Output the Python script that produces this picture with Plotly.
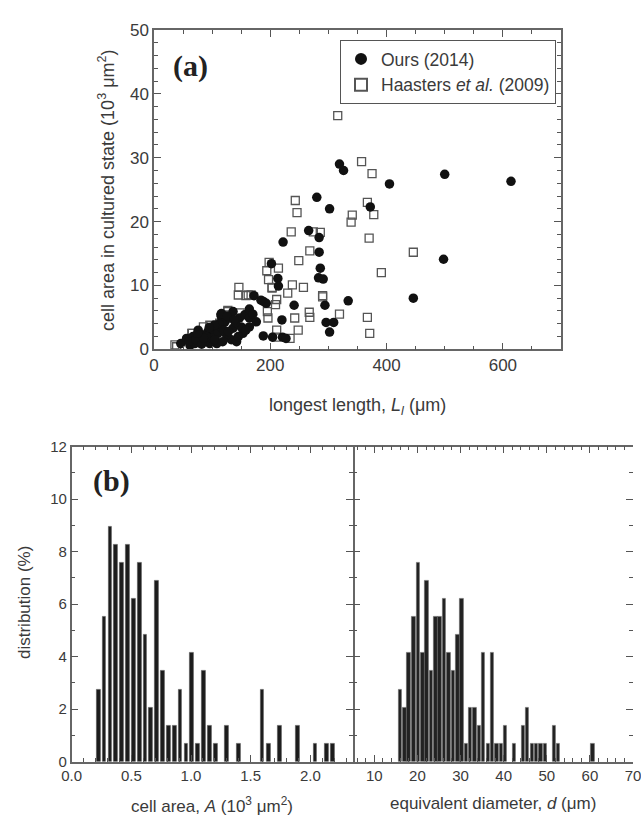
import plotly.graph_objects as go

# ---------------- data ----------------
# (a) longest length L_l (um) vs cell area (10^3 um^2)
ours_L = [319, 326, 405, 500, 614, 280, 302, 372, 266, 284, 222, 284, 286, 283, 291,
          498, 202, 213, 214, 172, 188, 193, 241, 294, 334, 446, 220, 296, 309, 302,
          188, 204, 221, 227, 115,
          46, 62, 70, 79, 76, 84, 93, 102, 110, 116, 116, 122, 130, 136, 147, 156, 164,
          164, 176, 133, 142, 108, 96, 164, 116, 56, 87, 67, 125, 136, 150, 99, 153,
          60, 72, 82, 90, 105, 112, 120, 128, 140, 145, 104, 95, 85, 75, 118, 158, 170,
          126, 138, 184]
ours_A = [29.0, 28.0, 25.9, 27.4, 26.3, 23.8, 22.0, 22.3, 18.6, 17.5, 16.8, 15.2, 12.7, 11.2, 11.0,
          14.1, 13.4, 11.1, 9.9, 8.4, 7.5, 7.2, 6.9, 6.9, 7.6, 8.0, 4.6, 4.2, 4.2, 2.7,
          2.1, 1.9, 1.9, 1.7, 5.4,
          0.9, 0.6, 0.9, 1.5, 3.0, 2.2, 2.8, 3.0, 2.5, 3.4, 5.1, 4.3, 4.9, 5.9, 4.9, 5.4, 4.9,
          3.5, 4.3, 1.5, 1.2, 0.9, 0.9, 6.3, 5.6, 1.7, 1.2, 2.0, 2.2, 3.3, 3.5, 1.7, 2.5,
          1.2, 1.5, 0.8, 2.0, 1.5, 4.0, 3.0, 2.8, 4.2, 2.0, 3.8, 3.4, 1.8, 2.5, 1.2, 3.0, 5.5,
          5.2, 4.6, 7.7]

haas_L = [316, 357, 375, 367, 378, 341, 339, 243, 246, 236, 274, 286, 268, 249, 370,
          198, 214, 194, 197, 146, 145, 158, 167, 238, 257, 230, 211, 209, 290, 203,
          127, 148, 130, 267, 268, 319, 242, 195, 248, 211, 210, 234, 97, 66, 36,
          446, 391, 367, 371, 196, 113, 104, 85, 96, 127, 162, 203, 290, 39, 65]
haas_A = [36.6, 29.4, 27.5, 23.0, 21.1, 21.0, 19.9, 23.3, 21.4, 18.4, 18.4, 18.3, 15.4, 13.9, 17.4,
          13.6, 12.7, 12.3, 10.9, 9.7, 8.5, 8.4, 8.5, 10.1, 9.7, 8.8, 7.8, 7.0, 8.4, 9.7,
          6.1, 5.7, 5.4, 5.8, 5.0, 5.5, 4.9, 5.9, 3.0, 3.0, 1.9, 1.7, 3.7, 2.5, 0.7,
          15.2, 12.0, 5.0, 2.5, 4.9, 4.1, 2.2, 3.5, 3.8, 5.9, 8.5, 9.6, 8.2, 0.4, 2.5]

# (b) histograms: bin centres and distribution (%)
area_bins = [0.224, 0.273, 0.322, 0.371, 0.420, 0.469, 0.518, 0.567, 0.616, 0.665,
             0.714, 0.763, 0.812, 0.861, 0.910, 0.959, 1.008, 1.057, 1.106, 1.155,
             1.204, 1.302, 1.400, 1.597, 1.648, 1.746, 1.891, 2.040, 2.139, 2.188]
area_pct = [2.76, 5.52, 8.97, 8.28, 7.59, 8.28, 6.21, 7.59, 4.83, 2.07,
            6.90, 3.45, 1.38, 1.38, 2.76, 0.69, 4.14, 0.69, 3.45, 1.38,
            0.69, 1.38, 0.69, 2.76, 0.69, 1.38, 1.38, 0.69, 0.69, 0.69]

diam_bins = [16.0, 17.0, 18.0, 19.1, 20.2, 21.2, 22.2, 23.2, 24.2, 25.2,
             26.2, 27.2, 28.3, 29.3, 30.3, 31.3, 32.3, 33.3, 34.3, 35.3,
             36.4, 37.4, 38.4, 39.4, 40.4, 42.4, 44.5, 45.5, 46.6, 47.6,
             48.6, 49.6, 51.7, 52.7, 60.7]
diam_pct = [2.76, 2.07, 4.14, 5.52, 7.59, 4.14, 6.90, 3.45, 5.52, 5.52,
            6.21, 4.14, 3.45, 4.83, 6.21, 0.69, 2.07, 2.07, 1.38, 4.14,
            0.69, 4.14, 0.69, 0.69, 1.38, 0.69, 1.38, 2.07, 0.69, 0.69,
            0.69, 0.69, 1.38, 0.69, 0.69]

# ---------------- figure ----------------
W, H = 641, 820
def fx(p):
    return p / W
def fy(p):
    return 1 - p / H

FONT = "Liberation Sans, Arial, sans-serif"
SERIF = "Liberation Serif, Times New Roman, serif"
AX = "#555555"
TXT = "#3a3a3a"

fig = go.Figure()

fig.add_trace(go.Scatter(
    x=haas_L, y=haas_A, mode="markers", name="Haasters <i>et al.</i> (2009)",
    legendrank=2,
    marker=dict(symbol="square-open", size=8, color="#555555", line=dict(width=1.3)),
    xaxis="x", yaxis="y"))
fig.add_trace(go.Scatter(
    x=ours_L, y=ours_A, mode="markers", name="Ours (2014)",
    legendrank=1,
    marker=dict(symbol="circle", size=9.5, color="#111111", line=dict(width=0)),
    xaxis="x", yaxis="y"))

fig.add_trace(go.Bar(
    x=area_bins, y=area_pct, width=0.032, showlegend=False,
    marker=dict(color="#1c1c1c", line=dict(color="#555555", width=0.6)),
    xaxis="x2", yaxis="y2"))
fig.add_trace(go.Bar(
    x=diam_bins, y=diam_pct, width=0.82, showlegend=False,
    marker=dict(color="#222222", line=dict(color="#666666", width=0.6)),
    xaxis="x3", yaxis="y3"))

def axstyle(**kw):
    d = dict(showline=True, linecolor="#666666", linewidth=1.5, mirror="ticks",
             ticks="inside", ticklen=7, tickwidth=1.3, tickcolor=AX,
             showgrid=False, zeroline=False, automargin=False,
             tickfont=dict(family=FONT, size=15, color=TXT))
    d.update(kw)
    return d

MINOR = dict(ticks="inside", ticklen=4, tickwidth=1.1, tickcolor=AX, showgrid=False)

top_y0, top_y1 = 30, 349.3
bot_y0, bot_y1 = 446.7, 761.7

fig.update_layout(
    width=W, height=H, margin=dict(l=0, r=0, t=0, b=0, autoexpand=False),
    paper_bgcolor="white", plot_bgcolor="white",
    bargap=0,
    xaxis=axstyle(domain=[fx(154), fx(561)], range=[0, 700], anchor="y",
                  tick0=0, dtick=200, minor=dict(dtick=50, **MINOR),
                  tickfont=dict(family=FONT, size=17, color=TXT)),
    yaxis=axstyle(domain=[fy(top_y1), fy(top_y0)], range=[0, 50], anchor="x",
                  tick0=0, dtick=10, minor=dict(dtick=2, **MINOR),
                  tickfont=dict(family=FONT, size=17, color=TXT)),
    xaxis2=axstyle(domain=[fx(71.7), fx(352.7)], range=[0, 2.355], anchor="y2",
                   tick0=0, dtick=0.5, tickformat=".1f", minor=dict(dtick=0.1, **MINOR)),
    yaxis2=axstyle(domain=[fy(bot_y1), fy(bot_y0)], range=[0, 12], anchor="x2",
                   tick0=0, dtick=2, minor=dict(dtick=1, **MINOR)),
    xaxis3=axstyle(domain=[fx(352.7), fx(633)], range=[5, 70], anchor="y3",
                   tick0=0, dtick=10, ticklabeloverflow="allow",
                   minor=dict(dtick=2, **MINOR)),
    yaxis3=axstyle(domain=[fy(bot_y1), fy(bot_y0)], range=[0, 12], anchor="x3",
                   tick0=0, dtick=2, showticklabels=False, showline=False,
                   minor=dict(dtick=1, **MINOR)),
    legend=dict(x=fx(556), y=fy(40), xanchor="right", yanchor="top",
                bordercolor="#555555", borderwidth=1, bgcolor="white",
                font=dict(family=FONT, size=17.5, color=TXT),
                tracegroupgap=0, itemsizing="constant"),
)

ann = [
    dict(text="<b>(a)</b>", x=fx(171), y=fy(66), xanchor="left", yanchor="middle",
         font=dict(family=SERIF, size=30, color="#222222")),
    dict(text="<b>(b)</b>", x=fx(91), y=fy(481), xanchor="left", yanchor="middle",
         font=dict(family=SERIF, size=30, color="#222222")),
    dict(text="longest length, <i>L<sub>l</sub></i> (μm)", x=fx(357), y=fy(406),
         xanchor="center", yanchor="middle",
         font=dict(family=FONT, size=18, color=TXT)),
    dict(text="cell area in cultured state (10<sup>3</sup> μm<sup>2</sup>)",
         x=fx(106), y=fy(190), xanchor="center", yanchor="middle", textangle=-90,
         font=dict(family=FONT, size=18, color=TXT)),
    dict(text="distribution (%)", x=fx(24), y=fy(603), xanchor="center",
         yanchor="middle", textangle=-90,
         font=dict(family=FONT, size=17, color=TXT)),
    dict(text="cell area, <i>A</i> (10<sup>3</sup> μm<sup>2</sup>)", x=fx(212), y=fy(805),
         xanchor="center", yanchor="middle",
         font=dict(family=FONT, size=17, color=TXT)),
    dict(text="equivalent diameter, <i>d</i> (μm)", x=fx(493), y=fy(803),
         xanchor="center", yanchor="middle",
         font=dict(family=FONT, size=17, color=TXT)),
]
for a in ann:
    a.update(xref="paper", yref="paper", showarrow=False)
fig.update_layout(annotations=ann)

fig.write_html("out.html", config={"displayModeBar": False},
               post_script="document.body.style.margin='0';document.body.style.padding='0';")
